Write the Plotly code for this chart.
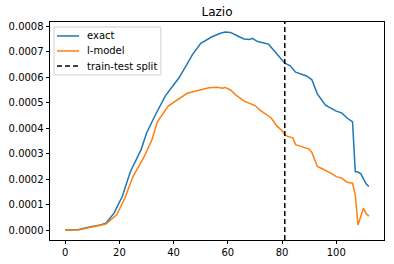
import plotly.graph_objects as go

title = "Lazio"
split_day = 81

exact_x = [0, 5, 9, 13, 15, 18, 20, 21, 24, 27, 28, 30, 33, 37, 40, 42, 47, 50, 54, 57, 59,
           61, 64, 66, 68, 69, 71, 75, 77, 80, 81, 83, 85, 89, 91, 93, 96, 100, 102, 104,
           106, 107, 108, 109, 110, 111, 112]
exact_y = [0.0, 0.000002, 0.000012, 0.00002, 0.000027, 0.000066, 0.00011, 0.00013, 0.000228,
           0.000292, 0.000316, 0.00038, 0.000447, 0.000528, 0.000568, 0.000598, 0.00069,
           0.000733, 0.000758, 0.000772, 0.000778, 0.000776, 0.00076, 0.00075, 0.000748,
           0.000753, 0.00074, 0.00073, 0.000705, 0.00067, 0.000655, 0.000645, 0.00062,
           0.000605, 0.00059, 0.000535, 0.00049, 0.000467, 0.00046, 0.00044, 0.000425,
           0.00023, 0.000228, 0.000222, 0.0002, 0.000182, 0.000171]

model_x = [0, 5, 9, 13, 15, 19, 22, 25, 29, 32, 34, 38, 42, 45, 49, 53, 56, 58, 59, 61, 63,
           66, 70, 72, 76, 78, 80, 81, 82, 84, 85, 87, 90, 91, 93, 95, 98, 100, 102, 104,
           106, 107, 108, 110, 111, 112]
model_y = [0.0, 0.0, 0.00001, 0.000018, 0.000024, 0.00006, 0.000125, 0.00021, 0.000285,
           0.000355, 0.000425, 0.000487, 0.000515, 0.000537, 0.000548, 0.000559, 0.000561,
           0.000557, 0.00056, 0.00055, 0.00053, 0.000506, 0.000489, 0.00047, 0.00044,
           0.00041, 0.00039, 0.000375, 0.000368, 0.000362, 0.000335, 0.000329, 0.000318,
           0.000305, 0.00025, 0.00024, 0.000224, 0.00021, 0.000204, 0.000188, 0.000184,
           0.00014, 0.00002, 0.000086, 0.000065, 0.000055]

y_ticks = [0.0, 0.0001, 0.0002, 0.0003, 0.0004, 0.0005, 0.0006, 0.0007, 0.0008]
x_ticks = [0, 20, 40, 60, 80, 100]

legend_labels = ["exact", "l-model", "train-test split"]
legend_colors = ["#1f77b4", "#ff7f0e", "black"]
legend_dashes = ["solid", "solid", "5px,3px"]

FONT = "DejaVu Sans"

fig = go.Figure()
fig.add_trace(go.Scatter(x=exact_x, y=exact_y, mode="lines", name=legend_labels[0],
                         line=dict(color=legend_colors[0], width=1.5)))
fig.add_trace(go.Scatter(x=model_x, y=model_y, mode="lines", name=legend_labels[1],
                         line=dict(color=legend_colors[1], width=1.5)))
fig.add_shape(type="line", xref="x", yref="paper", x0=split_day, x1=split_day, y0=0, y1=1,
              line=dict(color=legend_colors[2], width=1.5, dash=legend_dashes[2]))

# legend box drawn in paper coordinates (matplotlib-style)
fig.add_shape(type="rect", xref="paper", yref="paper", x0=0.012, x1=0.332, y0=0.757, y1=0.977,
              line=dict(color="#d0d0d0", width=1), fillcolor="rgba(255,255,255,0.8)",
              layer="above")
legend_rows = [0.936, 0.867, 0.798]
for lab, col, dsh, yy in zip(legend_labels, legend_colors, legend_dashes, legend_rows):
    fig.add_shape(type="line", xref="paper", yref="paper", x0=0.021, x1=0.087, y0=yy, y1=yy,
                  line=dict(color=col, width=1.5, dash=dsh), layer="above")
    fig.add_annotation(xref="paper", yref="paper", x=0.106, y=yy, text=lab, showarrow=False,
                       xanchor="left", yanchor="middle",
                       font=dict(size=10, color="black", family=FONT))

ymax = max(max(exact_y), max(model_y))
pad_y = 0.05 * ymax
xmax = max(max(exact_x), max(model_x))
pad_x = 0.05 * xmax

axis_common = dict(showgrid=False, zeroline=False, showline=True, linecolor="black",
                   linewidth=0.8, mirror=True, ticks="outside", ticklen=3.5,
                   tickwidth=0.8, tickcolor="black", automargin=False,
                   tickfont=dict(size=10, color="black", family=FONT))

fig.update_layout(
    width=394, height=264,
    margin=dict(l=50, r=10, t=22, b=24, autoexpand=False),
    paper_bgcolor="white", plot_bgcolor="white",
    title=dict(text=title, x=0.5, xref="paper", xanchor="center", y=1 - 12 / 264,
               yref="container", yanchor="middle",
               font=dict(size=12, color="black", family=FONT)),
    xaxis=dict(range=[-pad_x, xmax + pad_x], tickvals=x_ticks, **axis_common),
    yaxis=dict(range=[-pad_y, ymax + pad_y], tickvals=y_ticks, tickformat=".4f",
               **axis_common),
    showlegend=False,
)

fig.write_html("out.html", config={"displayModeBar": False},
               post_script="document.body.style.margin='0';")
